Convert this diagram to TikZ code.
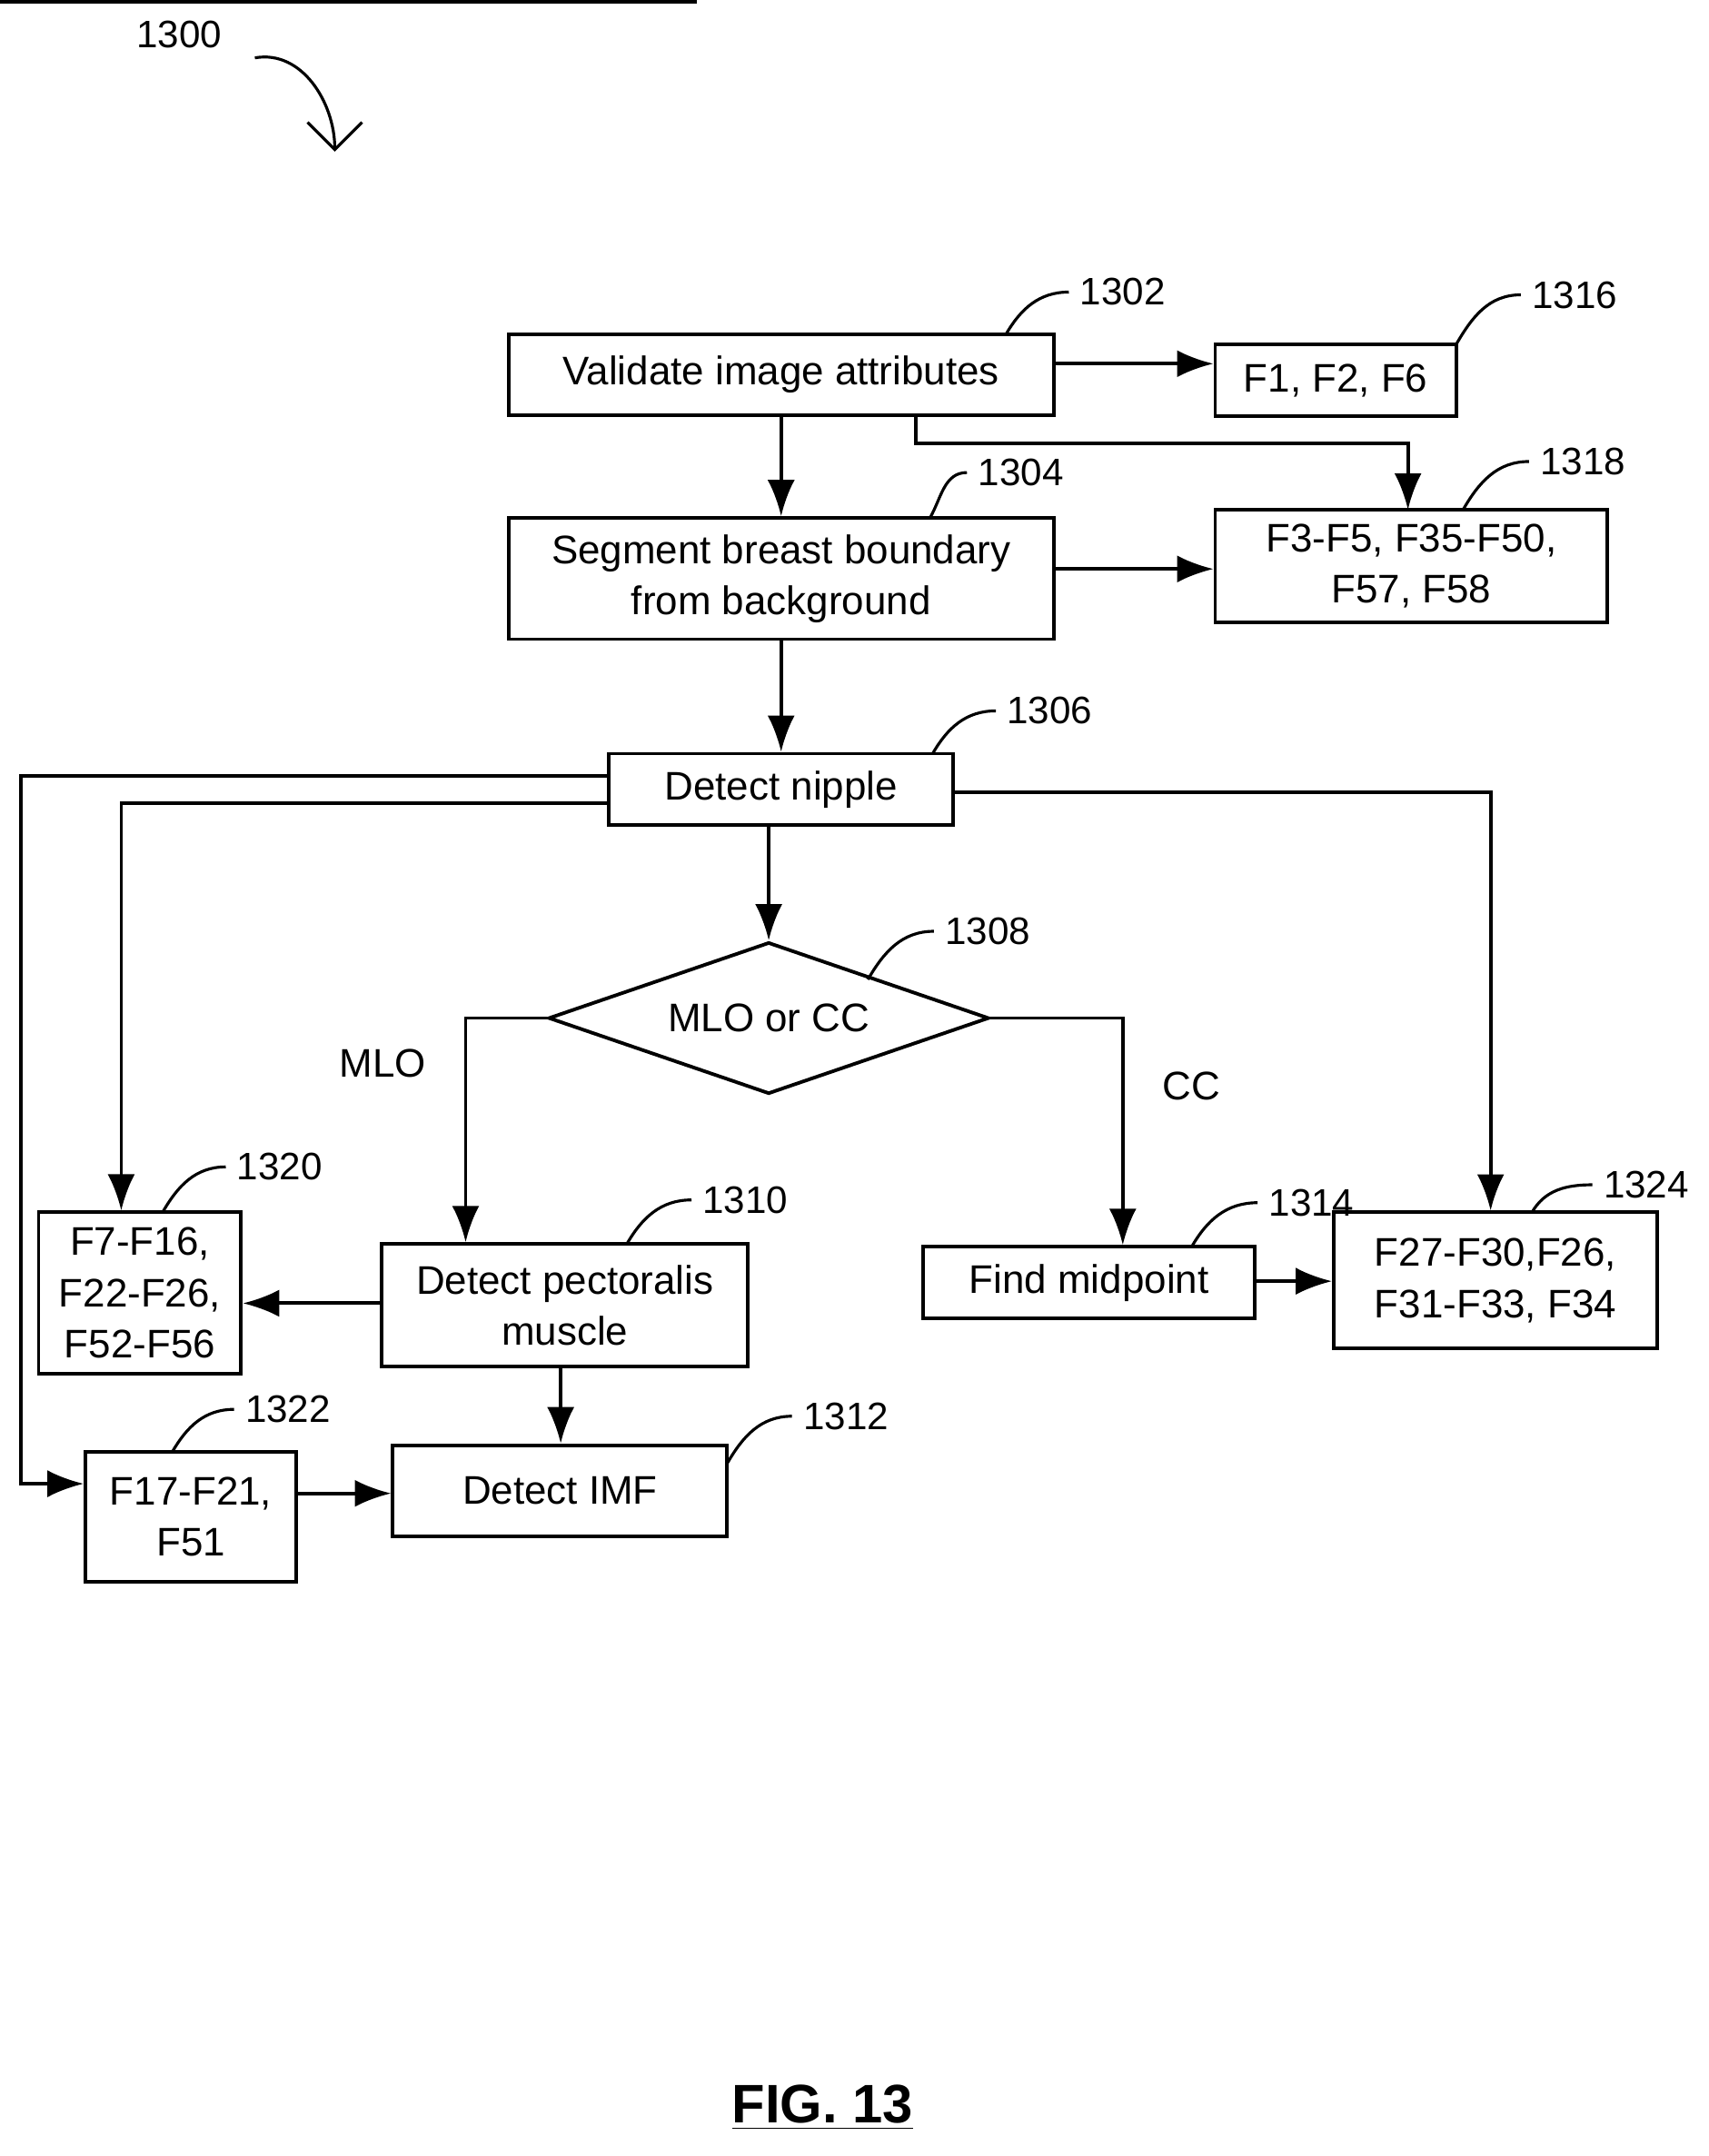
\documentclass[tikz,border=0pt]{standalone}
\usepackage{fontspec}
\setmainfont{Liberation Sans}
\usetikzlibrary{arrows.meta,positioning,shapes.geometric}

\begin{document}
\begin{tikzpicture}[x=0.01516cm,y=-0.01516cm]
    % Define styles
    \tikzset{
        box/.style={rectangle, draw, line width=1.1pt, inner sep=0pt, align=center, font=\fontsize{12.5}{16}\selectfont},
        num/.style={font=\fontsize{12}{14}\selectfont},
        flow/.style={-{Latex[length=4mm,width=3mm]}, line width=1.1pt},
        lead/.style={line width=0.9pt}
    }
    \useasboundingbox (0,0) rectangle (1240,1565);

    % Draw nodes
    \node[box, minimum width=396\pgflinewidth] at (0,0) {};
    \node[box, minimum width=6cm, minimum height=0.894cm] (validate) at (567,272) {Validate image attributes};
    \node[box, minimum width=2.653cm, minimum height=0.788cm] (f1) at (969.5,276) {F1, F2, F6};
    \node[box, minimum width=6cm, minimum height=1.334cm] (segment) at (567,420) {Segment breast boundary\\from background};
    \node[box, minimum width=4.32cm, minimum height=1.243cm] (f3) at (1024.5,411) {F3-F5, F35-F50,\\F57, F58};
    \node[box, minimum width=3.79cm, minimum height=0.788cm] (nipple) at (567,573) {Detect nipple};
    \node[diamond, draw, line width=1.1pt, aspect=2.9, minimum width=4.85cm, minimum height=1.67cm, inner sep=0pt,
          font=\fontsize{12.5}{16}\selectfont] (view) at (558,739) {MLO or CC};
    \node[box, minimum width=2.23cm, minimum height=1.774cm] (f7) at (101.5,938.5) {F7-F16,\\F22-F26,\\F52-F56};
    \node[box, minimum width=4.03cm, minimum height=1.35cm] (pector) at (410,947.5) {Detect pectoralis\\muscle};
    \node[box, minimum width=3.65cm, minimum height=0.788cm] (midpt) at (790.5,931) {Find midpoint};
    \node[box, minimum width=3.56cm, minimum height=1.5cm] (f27) at (1085.5,929.5) {F27-F30,F26,\\F31-F33, F34};
    \node[box, minimum width=2.32cm, minimum height=1.425cm] (f17) at (138.5,1101) {F17-F21,\\F51};
    \node[box, minimum width=3.68cm, minimum height=1cm] (imf) at (406.5,1082) {Detect IMF};

    % Reference numbers
    \node[num] (n1300) at (130,25) {1300};
    \coordinate (p1300) at (243,110);
    \draw[-{Straight Barb[length=3mm]}, lead] (185,42) to[out=10,in=90] (p1300);
    \node[num] (n1302) at (815,212) {1302};
    \node[num] (n1316) at (1143,214) {1316};
    \node[num] (n1304) at (741,343) {1304};
    \node[num] (n1318) at (1149,335) {1318};
    \node[num] (n1306) at (762,516) {1306};
    \node[num] (n1308) at (717,676) {1308};
    \node[num] (n1320) at (203,847) {1320};
    \node[num] (n1310) at (541,871) {1310};
    \node[num] (n1314) at (952,873) {1314};
    \node[num] (n1324) at (1195,860) {1324};
    \node[num] (n1322) at (209,1023) {1322};
    \node[num] (n1312) at (614,1028) {1312};
    \draw[lead] (730,243) to[out=60,in=180] (n1302.west);
    \draw[lead] (1057,250) to[out=60,in=180] (n1316.west);
    \draw[lead] (675,376) to[out=60,in=180] (n1304.west);
    \draw[lead] (1062,370) to[out=60,in=180] (n1318.west);
    \draw[lead] (677,547) to[out=60,in=180] (n1306.west);
    \draw[lead] (630,711) to[out=60,in=180] (n1308.west);
    \draw[lead] (118,880) to[out=60,in=180] (n1320.west);
    \draw[lead] (455,903) to[out=60,in=180] (n1310.west);
    \draw[lead] (865,905) to[out=60,in=180] (n1314.west);
    \draw[lead] (1112,880) to[out=60,in=180] (n1324.west);
    \draw[lead] (125,1054) to[out=60,in=180] (n1322.west);
    \draw[lead] (528,1062) to[out=60,in=180] (n1312.west);

    % Draw arrows
    \draw[flow] (validate) -- (segment);
    \draw[flow] (validate.east |- 0,264) -- (f1.west |- 0,264);
    \draw[flow] (665,302) |- (1022,322) -- (1022,370);
    \draw[flow] (segment.east |- 0,413) -- (f3.west |- 0,413);
    \draw[flow] (segment) -- (nipple);
    \draw[flow] (nipple.south -| view.north) -- (view.north);
    \draw[flow] (nipple.west |- 0,563) -| (15,1077) -- (f17.west |- 0,1077);
    \draw[flow] (nipple.west |- 0,583) -| (f7.north -| 88,0);
    \draw[flow] (nipple.east |- 0,575) -| (f27.north -| 1082,0);
    \draw[flow] (view.west) -| (pector.north -| 338,0) node[pos=0.6, left=0.3cm, font=\fontsize{12.5}{16}\selectfont] {MLO};
    \draw[flow] (view.east) -| (midpt.north -| 815,0) node[pos=0.65, right=0.3cm, font=\fontsize{12.5}{16}\selectfont] {CC};
    \draw[flow] (pector.west |- 0,946) -- (f7.east |- 0,946);
    \draw[flow] (pector.south -| 407,0) -- (imf.north -| 407,0);
    \draw[flow] (f17.east |- 0,1084) -- (imf.west |- 0,1084);
    \draw[flow] (midpt.east |- 0,930) -- (f27.west |- 0,930);

    % Add title
    \node[font=\bfseries\fontsize{17}{20}\selectfont] (fig) at (597,1530) {\underline{FIG. 13}};
\end{tikzpicture}
\end{document}
